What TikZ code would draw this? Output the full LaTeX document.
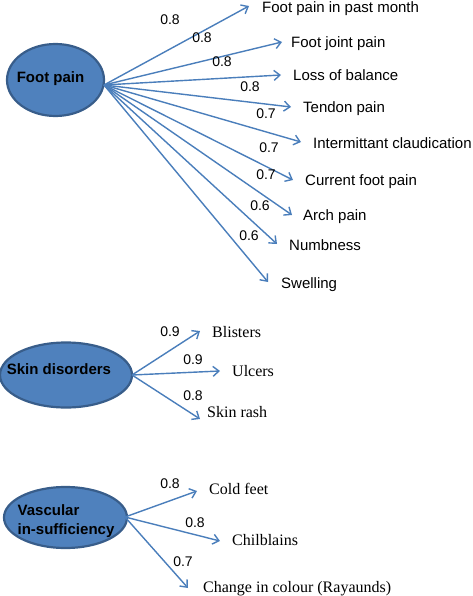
\documentclass[tikz,border=0pt]{standalone}
\usepackage{fontspec}
\setmainfont{Liberation Serif}
\setsansfont{Liberation Sans}
\usetikzlibrary{shapes.geometric,arrows.meta}
\definecolor{factorfill}{RGB}{79,129,189}
\definecolor{factordraw}{RGB}{56,93,138}
\definecolor{linkblue}{RGB}{74,126,187}

\begin{document}
\begin{tikzpicture}[x=1pt,y=-1pt,>={Straight Barb[length=6pt,width=10pt]},
    factor/.style={ellipse,draw=factordraw,fill=factorfill,line width=2.2pt,inner sep=0pt},
    head/.style={inner sep=0pt,font=\sffamily\bfseries\fontsize{15}{19}\selectfont},
    item/.style={anchor=base west,inner sep=0pt,font=\sffamily\fontsize{15}{18}\selectfont},
    sitem/.style={anchor=base west,inner sep=0pt,font=\fontsize{16}{19}\selectfont},
    load/.style={inner sep=0pt,font=\sffamily\fontsize{14}{16}\selectfont},
    link/.style={->,draw=linkblue,line width=1.4pt}]
    \useasboundingbox (0,0) rectangle (473,596);

    \node[factor,minimum width=97,minimum height=72] (foot) at (55.5,80) {};
    \node[head,anchor=base] (foottext) at (50.5,82.5) {Foot pain};
    \coordinate (fo) at (104,85);
    \foreach \tx/\ty/\lx/\ly/\name/\w/\wx/\wy [count=\i] in {
        249/6/262/12.5/Foot pain in past month/0.8/170/20,
        282/42/291/48/Foot joint pain/0.8/202/38,
        281/75/293/80.5/Loss of balance/0.8/222/62,
        291/107/303/112.5/Tendon pain/0.8/250/87,
        301/142/313/148.5/Intermittant claudication/0.7/266/114,
        293/180/305/185.5/Current foot pain/0.7/269/148,
        292/215/303/220.5/Arch pain/0.7/266/175,
        277/244/289/250.5/Numbness/0.6/260/206,
        268/282/281/288.5/Swelling/0.6/249/236} {
      \node[item] (f\i) at (\lx,\ly) {\name};
      \coordinate (ft\i) at (\tx,\ty);
      \draw[link] (fo) -- (ft\i);
      \node[load] (fw\i) at (\wx,\wy) {\w};
    }

    \node[factor,minimum width=132,minimum height=65] (skin) at (66,375) {};
    \node[head,anchor=base] (skintext) at (59,374.5) {Skin disorders};
    \coordinate (so) at (132,375);
    \foreach \tx/\ty/\lx/\ly/\name/\w/\wx/\wy [count=\i] in {
        200/331/212/337.5/Blisters/0.9/170/332,
        220/371/232/376.5/Ulcers/0.9/193/360,
        200/419/207/417.5/Skin rash/0.8/193/396} {
      \node[sitem] (s\i) at (\lx,\ly) {\name};
      \coordinate (st\i) at (\tx,\ty);
      \draw[link] (so) -- (st\i);
      \node[load] (sw\i) at (\wx,\wy) {\w};
    }

    \node[factor,minimum width=123,minimum height=61] (vasc) at (65.5,517.5) {};
    \node[head,align=left] (vasctext) at (66,521) {Vascular\\in-sufficiency};
    \coordinate (vo) at (125,517);
    \foreach \tx/\ty/\lx/\ly/\name/\w/\wx/\wy [count=\i] in {
        197/491/209/494.5/Cold feet/0.8/170/484,
        220/541/232/545.5/Chilblains/0.8/195/523,
        188/588/203/592.5/Change in colour (Rayaunds)/0.7/183/562} {
      \node[sitem] (v\i) at (\lx,\ly) {\name};
      \coordinate (vt\i) at (\tx,\ty);
      \draw[link] (vo) -- (vt\i);
      \node[load] (vw\i) at (\wx,\wy) {\w};
    }
\end{tikzpicture}
\end{document}
